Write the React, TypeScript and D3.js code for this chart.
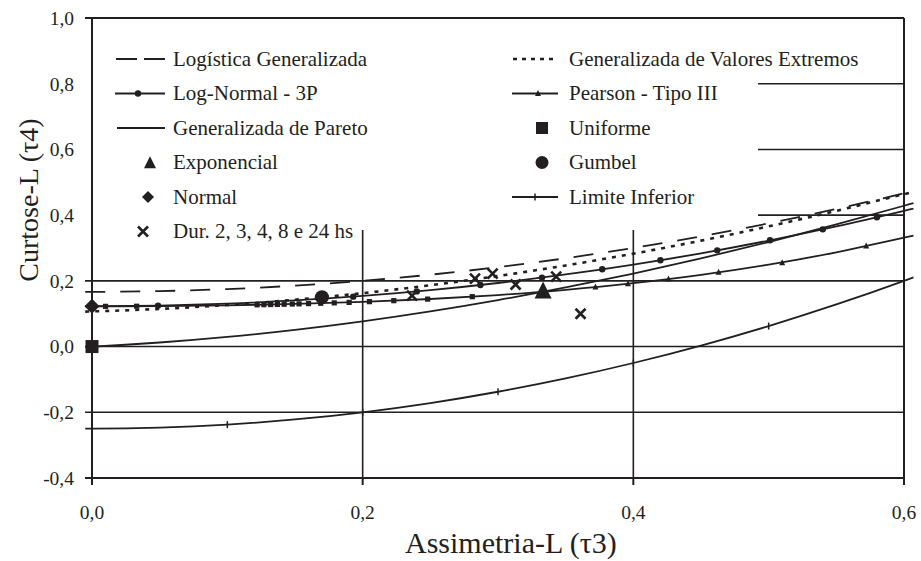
import React from "react";
import * as d3 from "d3";

const W = 921;
const H = 561;

const X_TICKS = [0, 0.2, 0.4, 0.6];
const Y_TICKS = [-0.4, -0.2, 0, 0.2, 0.4, 0.6, 0.8, 1.0];

// τ3 abscissas for the theoretical curves
const T3 = [-0.005, 0, 0.05, 0.1, 0.15, 0.2, 0.25, 0.3, 0.35, 0.4, 0.45, 0.5, 0.55, 0.6, 0.607];
const GLO = [0.16669, 0.16667, 0.16875, 0.175, 0.18542, 0.2, 0.21875, 0.24167, 0.26875, 0.3, 0.33542, 0.375, 0.41875, 0.46667, 0.47371];
const GEV = [0.10646, 0.10701, 0.11467, 0.12652, 0.14251, 0.16259, 0.18671, 0.2148, 0.24683, 0.28271, 0.3224, 0.36585, 0.41299, 0.46378, 0.4706];
const LN3 = [0.12283, 0.12282, 0.12476, 0.13058, 0.14032, 0.15401, 0.17172, 0.19349, 0.2194, 0.24951, 0.28389, 0.3226, 0.36573, 0.41335, 0.4202];
const GPA = [-0.00098, 0, 0.01238, 0.02941, 0.05097, 0.07692, 0.10714, 0.14151, 0.17991, 0.22222, 0.26835, 0.31818, 0.37162, 0.42857, 0.43682];
const PE3 = [0.1224, 0.1224, 0.12316, 0.12551, 0.12965, 0.13594, 0.14483, 0.15686, 0.17265, 0.19288, 0.21823, 0.24935, 0.28686, 0.33142, 0.3374];
const LB = [-0.24997, -0.25, -0.24688, -0.2375, -0.22188, -0.2, -0.17188, -0.1375, -0.09688, -0.05, 0.00313, 0.0625, 0.12813, 0.2, 0.21056];

// markers along curves
const LN3_MK_T3 = [0.0488, 0.193, 0.24, 0.287, 0.3325, 0.377, 0.42, 0.462, 0.501, 0.54, 0.58];
const LN3_MK_T4 = [0.12467, 0.15187, 0.16785, 0.18743, 0.20986, 0.23514, 0.26274, 0.29278, 0.32342, 0.35676, 0.39375];
const PE3_SQ_T3 = [0.01, 0.033, 0.122, 0.127, 0.132, 0.137, 0.142, 0.148, 0.153, 0.16, 0.169, 0.179, 0.19, 0.205, 0.223, 0.248, 0.281];
const PE3_SQ_T4 = [0.12243, 0.12273, 0.12709, 0.12751, 0.12794, 0.12839, 0.12886, 0.12946, 0.12998, 0.13074, 0.13178, 0.13301, 0.13449, 0.13671, 0.13967, 0.14441, 0.15187];
const PE3_TR_T3 = [0.372, 0.396, 0.426, 0.463, 0.51, 0.572];
const PE3_TR_T4 = [0.18097, 0.19107, 0.20536, 0.2258, 0.25448, 0.30558];
const LB_MK_T3 = [0.1, 0.2, 0.3, 0.4, 0.5];
const LB_MK_T4 = [-0.2375, -0.2, -0.1375, -0.05, 0.0625];

// single-point distributions
const EXPO = [0.3333, 0.1667];
const NORMAL = [0, 0.1226];
const UNIFORM = [0, 0];
const GUMBEL = [0.1699, 0.1504];

// observed data (durations)
const OBS_T3 = [0.2365, 0.283, 0.296, 0.313, 0.343, 0.361];
const OBS_T4 = [0.155, 0.207, 0.222, 0.189, 0.213, 0.1];

const LEGEND_LEFT = ["Logística Generalizada", "Log-Normal - 3P", "Generalizada de Pareto", "Exponencial", "Normal", "Dur. 2, 3, 4, 8 e 24 hs"];
const LEGEND_RIGHT = ["Generalizada de Valores Extremos", "Pearson - Tipo III", "Uniforme", "Gumbel", "Limite Inferior"];

const X_TITLE = "Assimetria-L (τ3)";
const Y_TITLE = "Curtose-L (τ4)";

const INK = "#231f20";
const FONT = "Liberation Serif, Times New Roman, serif";
const TS = { fontFamily: FONT };

const x = d3.scaleLinear().domain([0, 0.6]).range([92, 904]);
const y = d3.scaleLinear().domain([-0.4, 1.0]).range([478, 18]);
const fmt = (v: number) => d3.format(".1f")(v).replace(".", ",").replace("−", "-");

const line = d3
  .line<[number, number]>()
  .x((d) => x(d[0]))
  .y((d) => y(d[1]))
  .curve(d3.curveMonotoneX);

const pts = (xs: number[], ys: number[]) => xs.map((v, i) => [v, ys[i]] as [number, number]);

const tri = (cx: number, cy: number, s: number) =>
  `M${cx},${cy - s * 0.6}L${cx + s / 2},${cy + s * 0.4}L${cx - s / 2},${cy + s * 0.4}Z`;
const diamond = (cx: number, cy: number, s: number) =>
  `M${cx},${cy - s / 2}L${cx + s / 2},${cy}L${cx},${cy + s / 2}L${cx - s / 2},${cy}Z`;
const cross = (cx: number, cy: number, s: number) =>
  `M${cx - s / 2},${cy - s / 2}L${cx + s / 2},${cy + s / 2}M${cx + s / 2},${cy - s / 2}L${cx - s / 2},${cy + s / 2}`;

export default function App() {
  const legendRows = [59, 93.5, 128, 162.5, 197, 231.5];
  const gridYs = [-0.2, 0, 0.2, 0.4, 0.6, 0.8];
  return (
    <svg
      width={W}
      height={H}
      viewBox={`0 0 ${W} ${H}`}
      style={{ position: "absolute", left: 0, top: 0, background: "#fff" }}
    >
      <rect x={0} y={0} width={W} height={H} fill="#fff" />
      {/* horizontal grid */}
      {gridYs.map((v) => (
        <line key={"gy" + v} x1={85} x2={x(0.6)} y1={y(v)} y2={y(v)} stroke={INK} strokeWidth={1.6} />
      ))}
      {/* vertical grid */}
      {[0.2, 0.4].map((v) => (
        <line key={"gx" + v} x1={x(v)} x2={x(v)} y1={y(1.0)} y2={y(-0.4)} stroke={INK} strokeWidth={1.6} />
      ))}
      {/* legend box (white, hides grid) */}
      <rect x={80} y={y(1.0) + 1} width={758 - 80} height={230 - y(1.0) - 1} fill="#fff" />

      {/* axes frame */}
      <line x1={85} x2={x(0.6)} y1={y(1.0)} y2={y(1.0)} stroke={INK} strokeWidth={2} />
      <line x1={85} x2={x(0.6)} y1={y(-0.4)} y2={y(-0.4)} stroke={INK} strokeWidth={2} />
      <line x1={x(0)} x2={x(0)} y1={y(1.0)} y2={y(-0.4) + 7} stroke={INK} strokeWidth={2} />
      <line x1={x(0.6)} x2={x(0.6)} y1={y(1.0)} y2={y(-0.4) + 7} stroke={INK} strokeWidth={2} />
      {X_TICKS.map((v) => (
        <line key={"xt" + v} x1={x(v)} x2={x(v)} y1={y(-0.4)} y2={y(-0.4) + 7} stroke={INK} strokeWidth={2} />
      ))}

      {/* tick labels */}
      {Y_TICKS.map((v) => (
        <text key={"yl" + v} x={74} y={y(v)} dy="0.35em" textAnchor="end" fontSize={19.5} fill={INK} style={TS}>
          {fmt(v)}
        </text>
      ))}
      {X_TICKS.map((v) => (
        <text key={"xl" + v} x={x(v)} y={512} dy="0.35em" textAnchor="middle" fontSize={19.5} fill={INK} style={TS}>
          {fmt(v)}
        </text>
      ))}

      {/* axis titles */}
      <text x={405} y={553} fontSize={30} fill={INK} style={TS}>
        {X_TITLE}
      </text>
      <text transform={`translate(38,200) rotate(-90)`} textAnchor="middle" fontSize={28} fill={INK} style={TS}>
        {Y_TITLE}
      </text>

      {/* curves */}
      <path d={line(pts(T3, LB)) || ""} fill="none" stroke={INK} strokeWidth={1.8} />
      <path d={line(pts(T3, GPA)) || ""} fill="none" stroke={INK} strokeWidth={1.8} />
      <path d={line(pts(T3, PE3)) || ""} fill="none" stroke={INK} strokeWidth={1.8} />
      <path d={line(pts(T3, LN3)) || ""} fill="none" stroke={INK} strokeWidth={1.8} />
      <path d={line(pts(T3, GEV)) || ""} fill="none" stroke={INK} strokeWidth={2.6} strokeDasharray="4,6" />
      <path d={line(pts(T3, GLO)) || ""} fill="none" stroke={INK} strokeWidth={1.8} strokeDasharray="20,15" />

      {/* curve markers */}
      {LN3_MK_T3.map((v, i) => (
        <circle key={"lnm" + i} cx={x(v)} cy={y(LN3_MK_T4[i])} r={3.2} fill={INK} />
      ))}
      {PE3_SQ_T3.map((v, i) => (
        <rect key={"pes" + i} x={x(v) - 2.6} y={y(PE3_SQ_T4[i]) - 2.6} width={5.2} height={5.2} fill={INK} />
      ))}
      {PE3_TR_T3.map((v, i) => (
        <path key={"pet" + i} d={tri(x(v), y(PE3_TR_T4[i]), 6)} fill={INK} />
      ))}
      {LB_MK_T3.map((v, i) => (
        <line key={"lbm" + i} x1={x(v)} x2={x(v)} y1={y(LB_MK_T4[i]) - 3.5} y2={y(LB_MK_T4[i]) + 3.5} stroke={INK} strokeWidth={1.5} />
      ))}

      {/* observed points */}
      {OBS_T3.map((v, i) => (
        <path key={"ob" + i} d={cross(x(v), y(OBS_T4[i]), 10)} stroke={INK} strokeWidth={2.6} fill="none" />
      ))}

      {/* point distributions */}
      <path d={tri(x(EXPO[0]), y(EXPO[1]), 17)} fill={INK} />
      <path d={diamond(x(NORMAL[0]), y(NORMAL[1]), 15)} fill={INK} />
      <rect x={x(UNIFORM[0]) - 6.5} y={y(UNIFORM[1]) - 6.5} width={13} height={13} fill={INK} />
      <circle cx={x(GUMBEL[0])} cy={y(GUMBEL[1])} r={7} fill={INK} />

      {/* legend text */}
      <g fontSize={21} fill={INK}>
        {LEGEND_LEFT.map((t, i) => (
          <text key={"ll" + i} x={173} y={legendRows[i]} dy="0.33em" style={TS}>
            {t}
          </text>
        ))}
        {LEGEND_RIGHT.map((t, i) => (
          <text key={"lr" + i} x={569} y={legendRows[i]} dy="0.33em" style={TS}>
            {t}
          </text>
        ))}
      </g>
      {/* legend symbols left */}
      <line x1={116} x2={165} y1={legendRows[0]} y2={legendRows[0]} stroke={INK} strokeWidth={1.8} strokeDasharray="21,7" />
      <line x1={115} x2={165} y1={legendRows[1]} y2={legendRows[1]} stroke={INK} strokeWidth={1.8} />
      <circle cx={138} cy={legendRows[1]} r={3.2} fill={INK} />
      <line x1={117} x2={165} y1={legendRows[2]} y2={legendRows[2]} stroke={INK} strokeWidth={1.8} />
      <path d={tri(150, legendRows[3] + 1, 12)} fill={INK} />
      <path d={diamond(148, legendRows[4], 12)} fill={INK} />
      <path d={cross(143, legendRows[5], 10)} stroke={INK} strokeWidth={2.6} fill="none" />
      {/* legend symbols right */}
      <line x1={513} x2={558} y1={legendRows[0]} y2={legendRows[0]} stroke={INK} strokeWidth={2.4} strokeDasharray="4,5" />
      <line x1={512} x2={558} y1={legendRows[1]} y2={legendRows[1]} stroke={INK} strokeWidth={1.8} />
      <path d={tri(538, legendRows[1], 6)} fill={INK} />
      <rect x={536} y={legendRows[2] - 6} width={12} height={12} fill={INK} />
      <circle cx={542} cy={legendRows[3]} r={6.5} fill={INK} />
      <line x1={512} x2={558} y1={legendRows[4]} y2={legendRows[4]} stroke={INK} strokeWidth={1.8} />
      <line x1={535} x2={535} y1={legendRows[4] - 3.5} y2={legendRows[4] + 3.5} stroke={INK} strokeWidth={1.5} />
    </svg>
  );
}
